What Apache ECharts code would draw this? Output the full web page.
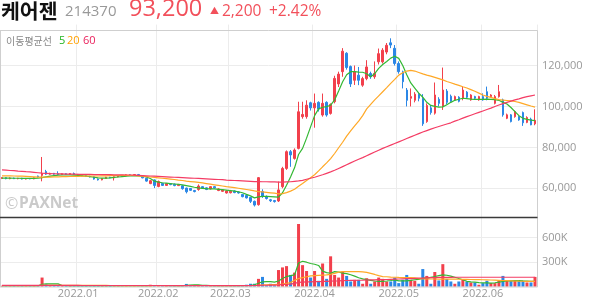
<!DOCTYPE html>
<html><head><meta charset="utf-8">
<script src="https://cdn.jsdelivr.net/npm/echarts@6/dist/echarts.min.js"></script>
<style>html,body{margin:0;padding:0;background:#fff}#c{width:594px;height:304px}</style>
</head><body><div id="c"></div>
<script>
const dates = [
'2021.12.06','2021.12.07','2021.12.08','2021.12.09','2021.12.10','2021.12.13','2021.12.14','2021.12.15','2021.12.16','2021.12.17',
'2021.12.20','2021.12.21','2021.12.22','2021.12.23','2021.12.24','2021.12.27','2021.12.28','2021.12.29','2021.12.30',
'2022.01.03','2022.01.04','2022.01.05','2022.01.06','2022.01.07','2022.01.10','2022.01.11','2022.01.12','2022.01.13','2022.01.14',
'2022.01.17','2022.01.18','2022.01.19','2022.01.20','2022.01.21','2022.01.24','2022.01.25','2022.01.26','2022.01.27','2022.01.28',
'2022.02.03','2022.02.04','2022.02.07','2022.02.08','2022.02.09','2022.02.10','2022.02.11','2022.02.14','2022.02.15','2022.02.16',
'2022.02.17','2022.02.18','2022.02.21','2022.02.22','2022.02.23','2022.02.24','2022.02.25','2022.02.28',
'2022.03.02','2022.03.03','2022.03.04','2022.03.07','2022.03.08','2022.03.10','2022.03.11','2022.03.14','2022.03.15','2022.03.16',
'2022.03.17','2022.03.18','2022.03.21','2022.03.22','2022.03.23','2022.03.24','2022.03.25','2022.03.28','2022.03.29','2022.03.30','2022.03.31',
'2022.04.01','2022.04.04','2022.04.05','2022.04.06','2022.04.07','2022.04.08','2022.04.11','2022.04.12','2022.04.13','2022.04.14',
'2022.04.15','2022.04.18','2022.04.19','2022.04.20','2022.04.21','2022.04.22','2022.04.25','2022.04.26','2022.04.27','2022.04.28','2022.04.29',
'2022.05.02','2022.05.03','2022.05.04','2022.05.06','2022.05.09','2022.05.10','2022.05.11','2022.05.12','2022.05.13','2022.05.16',
'2022.05.17','2022.05.18','2022.05.19','2022.05.20','2022.05.23','2022.05.24','2022.05.25','2022.05.26','2022.05.27','2022.05.30','2022.05.31',
'2022.06.02','2022.06.03','2022.06.07','2022.06.08','2022.06.09','2022.06.10','2022.06.13','2022.06.14','2022.06.15','2022.06.16',
'2022.06.17','2022.06.20','2022.06.21','2022.06.22'];

const openP = [
64800,65200,64700,65000,64700,64900,64500,64800,64600,66000,
66300,68200,66900,67300,67100,66700,67100,66800,67200,66800,
66400,66100,65900,65600,64500,64100,64800,65400,65100,65600,
66200,66000,66600,66300,66700,65800,64900,62300,64100,60900,
62400,61400,62300,62000,61300,61200,60100,59900,58900,59400,
60800,60200,59700,60800,58900,58500,57700,57800,58700,58200,
57000,56500,55500,53600,52000,58400,56000,54400,54000,53800,
60800,69700,77900,74600,79500,95000,95000,101800,99300,102000,
95800,102000,96600,102300,111000,117000,126000,119500,112800,115300,
110400,113600,116100,114500,121800,121800,126600,131100,128400,121000,
116900,108000,104000,103000,106000,104000,92600,99300,96700,103500,
100000,107500,105000,103200,104500,104000,107000,103200,104800,103200,
104800,107200,104800,101500,104800,103200,94200,95900,95000,95000,
97000,92200,93800,91500];

const closeP = [
65200,64700,65000,64700,64900,64500,64800,64600,65100,65600,
67300,66900,67300,66900,66700,67100,66800,67200,66800,66400,
66100,65800,65600,64500,64100,64800,65400,65100,65600,66200,
66000,66600,66300,66700,66200,65100,63500,63700,61400,63300,
61400,62300,61800,61300,61900,59800,58300,59000,58400,61100,
60100,59400,60800,60200,59700,59200,58700,58600,57900,57700,
55900,55300,53600,51800,65200,56000,55000,53900,53500,59200,
69700,77900,76300,78700,97400,96100,100600,99300,101500,98700,
101500,95800,101000,113700,115800,127000,119000,111000,117000,112800,
113600,119300,114500,116100,125800,127500,129900,130000,121000,117000,
112100,103000,104800,106000,104000,91500,100500,97000,105600,101500,
108000,102000,102500,104800,102500,108000,104500,105600,104000,104800,
103200,104000,105600,104800,107200,95900,95900,92600,97500,93400,
92000,94600,91000,93200];

const lowP = [
64500,64400,64400,64500,64400,64300,64300,64400,64400,65200,
63400,66500,66600,66600,66400,66500,66500,66600,66500,66100,
65900,65500,65300,64200,63800,63900,64600,64900,63800,65400,
65800,65800,66100,66100,66000,64900,63200,62000,60100,60500,
61100,61200,61500,61000,61100,59300,57500,58700,58000,58800,
59800,59100,59400,59900,58600,58200,57400,57500,57600,57400,
55600,55000,52800,51100,51500,55300,54500,53300,53000,53300,
60000,69000,70500,74000,79000,94000,94000,98000,89600,97500,
95000,95000,96000,101500,109500,114500,118000,109500,110500,110400,
109600,112800,113500,113500,120500,121000,125500,128500,120000,116000,
108800,100000,100000,102000,102500,90500,92000,96000,96000,100000,
98300,101000,102000,102800,102000,103000,104000,102800,103500,102800,
102800,103000,104300,101000,104300,95000,93800,92200,94500,93000,
90500,91800,90800,90800];

const highP = [
65500,65400,65300,65200,65100,65100,65000,65000,65300,66200,
75300,69000,67600,67500,68300,67300,67300,67400,67700,67000,
66600,66300,66100,65800,64800,65000,65600,65600,65800,66400,
66500,66800,66900,66900,67000,66000,65100,64000,64300,63800,
62600,62600,62500,62300,62100,61600,60300,60100,59200,61900,
61000,60400,61000,61000,60000,59500,59000,59200,59000,58400,
57200,56700,55800,54000,65500,59500,56500,54800,54300,63300,
70500,78500,78700,79500,102300,102300,103000,102300,106300,102500,
106300,102500,101500,115000,117000,128500,126500,120000,120000,119300,
114500,122600,117000,122000,128300,128500,131000,133300,130000,122000,
117500,109000,108800,107000,106500,106000,101500,100500,111700,104500,
119000,108500,105800,105300,105000,109700,107500,106000,105200,105200,
106400,109700,106000,105600,110500,103800,96500,96300,98000,95600,
97500,95200,94500,98600];

const ma5 = [
65000,64950,64950,64900,64900,64850,64800,64800,64800,64900,
65200,65600,65900,66200,66400,66500,66500,66500,66400,66300,
66100,65900,65700,65400,65100,65000,65000,65100,65300,65500,
65700,65900,66000,66100,66100,65900,65500,64800,63500,63000,
62700,62500,62300,62100,61900,61700,61300,60900,60500,60200,
60000,59800,59700,59700,59500,59300,59100,58900,58600,58300,
57800,57000,56300,55300,55800,56000,56000,55900,55800,55700,
57800,61500,65500,70000,76500,79500,84500,90000,95500,98800,
99600,99900,100600,103200,107500,112100,115500,117000,117000,116800,
116700,116000,114500,116000,118600,120500,122000,123600,124500,123500,
120000,115500,111500,109000,106500,104500,102000,100500,100000,99700,
99800,100800,102000,103000,103500,104000,103800,103600,103500,103500,
103500,103600,103500,103300,103000,102000,101200,99500,97500,95500,
94200,93700,93300,93100];

const ma20 = [
66100,66100,66050,66000,65950,65900,65800,65700,65600,65500,
65450,65450,65500,65550,65600,65650,65700,65750,65800,65850,
65900,65950,66000,66000,66000,66050,66100,66150,66200,66250,
66300,66300,66300,66250,66100,65900,65700,65500,65300,65100,
64900,64700,64500,64300,64000,63800,63500,63300,63100,62900,
62600,62300,62000,61700,61400,61100,60800,60600,60300,60000,
59700,59400,59100,58700,58400,58200,58000,57800,57600,57300,
57400,57900,58600,59500,61000,62300,63800,65200,66600,68500,
70500,72400,74500,77000,79800,82500,85500,88000,90500,92800,
95500,98800,101000,103200,105200,107200,109200,111300,113200,115300,
116500,117300,117600,117300,116600,115900,115300,114800,114200,113600,
113000,112200,111600,110900,110300,109600,109000,108200,107400,106500,
105600,104900,104400,103800,103300,103100,102900,102700,102400,102000,
101400,100800,100200,99700];

const ma60 = [
69000,68900,68700,68600,68400,68300,68100,68000,67800,67600,
67400,67300,67200,67100,67000,67000,66900,66900,66900,66800,
66800,66800,66800,66700,66700,66700,66700,66700,66600,66600,
66600,66500,66500,66400,66300,66200,66100,66000,65900,65800,
65700,65600,65500,65400,65300,65200,65100,65000,64900,64800,
64700,64600,64500,64400,64300,64200,64000,63900,63800,63700,
63600,63500,63400,63300,63300,63200,63200,63100,63100,63000,
63000,63100,63200,63400,63600,63900,64400,64900,65400,66000,
66600,67300,68000,68800,69700,70600,71500,72400,73300,74200,
75000,75900,76800,77700,78600,79500,80300,81100,81900,82700,
83500,84300,85100,85900,86700,87500,88200,88900,89600,90200,
90800,91400,92000,92800,93500,94300,95000,95700,96400,97100,
97800,98500,99200,100000,100700,101400,102000,102600,103200,103700,
104300,104800,105200,105600];

const volume = [
12000,9000,8000,11000,7000,9000,8000,10000,9000,14000,
112000,28000,15000,12000,18000,10000,9000,11000,8000,9000,
8000,10000,7000,9000,14000,11000,8000,9000,12000,10000,
8000,9000,7000,8000,9000,11000,14000,24000,16000,12000,
9000,10000,8000,9000,11000,14000,34000,22000,12000,16000,
10000,9000,11000,8000,9000,10000,12000,12000,10000,9000,
14000,24000,36000,36000,96000,120000,16000,36000,16000,204000,
236000,252000,144000,172000,768000,264000,192000,112000,192000,72000,
284000,96000,372000,144000,112000,184000,132000,64000,84000,84000,
36000,104000,36000,64000,112000,96000,64000,64000,112000,44000,
84000,144000,84000,72000,36000,216000,132000,36000,180000,76000,
276000,96000,64000,36000,64000,84000,64000,52000,52000,24000,
44000,72000,44000,44000,72000,132000,72000,72000,72000,72000,
72000,52000,52000,120000];

const volMa5 = [
10000,10000,10000,10000,10000,10000,9000,9000,9000,10000,
30000,34000,35000,36000,35000,14000,12000,11000,11000,10000,
10000,10000,9000,9000,10000,10000,10000,10000,10000,10000,
10000,9000,9000,9000,9000,9000,10000,14000,15000,15000,
15000,14000,12000,10000,10000,11000,16000,20000,22000,22000,
18000,16000,12000,11000,10000,10000,10000,11000,11000,11000,
12000,14000,18000,24000,42000,60000,62000,62000,57000,70000,
100000,124000,135000,144000,290000,312000,300000,284000,275000,260000,
190000,172000,165000,185000,180000,166000,160000,146000,130000,110000,
95000,86000,78000,70000,64000,66000,70000,76000,84000,72000,
72000,72000,78000,85000,90000,104000,105000,115000,125000,135000,
144000,140000,130000,116000,100000,85000,66000,60000,55000,50000,
48000,46000,44000,48000,55000,64000,70000,72000,74000,76000,
72000,70000,66000,64000];

const volMa20 = [
13000,13000,13000,13000,13000,13000,13000,13000,13000,13000,
17000,17000,17000,17000,17000,17000,17000,17000,17000,17000,
17000,17000,17000,17000,17000,17000,16000,15000,14000,12000,
11000,11000,11000,11000,11000,11000,11000,11000,12000,12000,
12000,12000,12000,12000,12000,12000,13000,14000,14000,14000,
14000,14000,14000,14000,14000,14000,13000,13000,12000,12000,
12000,13000,14000,14000,18000,24000,24000,25000,25000,30000,
32000,40000,50000,78000,100000,112000,122000,132000,136000,139000,
142000,144000,152000,163000,178000,184000,185000,185000,184000,184000,
182000,176000,164000,150000,135000,124000,122000,118000,116000,113000,
112000,112000,112000,108000,100000,96000,95000,94000,94000,93000,
93000,92000,92000,92000,91000,90000,89000,88000,87000,86000,
85000,84000,82000,80000,78000,76000,74000,72000,70000,68000,
67000,65000,64000,64000];

const volMa60 = [
16000,16000,16000,16000,16000,16000,16000,16000,16000,16000,
16000,16000,16000,16000,16000,16000,16000,16000,16000,16000,
15000,15000,15000,15000,15000,15000,15000,15000,15000,15000,
15000,15000,15000,15000,15000,15000,15000,15000,15000,15000,
14000,14000,14000,14000,14000,14000,14000,14000,14000,14000,
14000,14000,14000,14000,14000,14000,14000,14000,14000,14000,
14000,14000,14000,15000,16000,18000,18000,19000,19000,22000,
26000,30000,32000,40000,52000,56000,58000,60000,62000,63000,
64000,66000,68000,70000,72000,75000,76000,77000,78000,79000,
80000,82000,83000,84000,86000,87000,88000,90000,92000,94000,
96000,98000,100000,102000,104000,106000,108000,110000,112000,113000,
114000,115000,115000,116000,116000,116000,116000,116000,116000,116000,
116000,116000,116000,116000,116000,116000,116000,116000,116000,116000,
116000,116000,116000,116000];

const UP = '#f2404c', DOWN = '#2b87e6';
const C5 = '#33b833', C20 = '#ffa826', C60 = '#f43c64';
const FONT = '"Open Sans", "Noto Sans CJK KR", sans-serif';
const KFONT = '"Noto Sans CJK KR", "Open Sans", sans-serif';

const monthStart = (i) => i > 0 && dates[i].slice(0, 7) !== dates[i - 1].slice(0, 7);
const candles = dates.map((d, i) => [openP[i], closeP[i], lowP[i], highP[i]]);

const xBase = {
  type: 'category', data: dates, boundaryGap: true,
  axisLine: { show: false }, axisTick: { show: false },
  splitLine: { show: true, interval: monthStart, lineStyle: { color: '#ececec', width: 1 } }
};

const lineS = (name, data, color, xi, yi) => ({
  name, type: 'line', data, xAxisIndex: xi, yAxisIndex: yi,
  showSymbol: false, symbol: 'none', smooth: false, z: 4,
  lineStyle: { color, width: 1.2 }, itemStyle: { color }
});

const chart = echarts.init(document.getElementById('c'), null, { renderer: 'canvas' });
chart.setOption({
  animation: false,
  backgroundColor: '#fff',
  grid: [
    { left: 0, right: 57, top: 24.6, bottom: 74.8 },
    { left: 0, right: 57, top: 213.2, bottom: 17.3 }
  ],
  xAxis: [
    Object.assign({}, xBase, { gridIndex: 0, axisLabel: { show: false } }),
    Object.assign({}, xBase, { gridIndex: 1, axisLabel: {
      show: true, interval: monthStart, formatter: (v) => v.slice(0, 7),
      color: '#999', fontSize: 11, margin: 2, fontFamily: FONT } })
  ],
  yAxis: [
    { type: 'value', gridIndex: 0, position: 'right', min: 40000, max: 140000, interval: 20000,
      axisLine: { show: false }, axisTick: { show: false },
      axisLabel: { color: '#999', fontSize: 11, margin: 5, fontFamily: FONT,
        showMinLabel: false, showMaxLabel: false,
        formatter: (v) => v.toLocaleString('en-US') },
      splitLine: { show: true, showMinLine: false, showMaxLine: false, lineStyle: { color: '#ececec' } } },
    { type: 'value', gridIndex: 1, position: 'right', min: 0, max: 900000, interval: 300000,
      axisLine: { show: false }, axisTick: { show: false },
      axisLabel: { color: '#999', fontSize: 11, margin: 5, fontFamily: FONT,
        showMinLabel: false, showMaxLabel: false,
        formatter: (v) => (v / 1000) + 'K' },
      splitLine: { show: true, showMinLine: false, showMaxLine: false, lineStyle: { color: '#ececec' } } }
  ],
  series: [
    { type: 'candlestick', data: candles, xAxisIndex: 0, yAxisIndex: 0, barWidth: 2, z: 3,
      itemStyle: { color: UP, color0: DOWN, borderColor: UP, borderColor0: DOWN, borderWidth: 1 } },
    lineS('MA5', ma5, C5, 0, 0),
    lineS('MA20', ma20, C20, 0, 0),
    lineS('MA60', ma60, C60, 0, 0),
    { type: 'bar', data: volume, xAxisIndex: 1, yAxisIndex: 1, barWidth: 3, z: 3,
      itemStyle: { color: (p) => closeP[p.dataIndex] >= openP[p.dataIndex] ? UP : DOWN } },
    lineS('VMA5', volMa5, C5, 1, 1),
    lineS('VMA20', volMa20, C20, 1, 1),
    lineS('VMA60', volMa60, C60, 1, 1)
  ],
  graphic: [
    { type: 'text', x: 1, y: 11, z: 10, style: { text: '케어젠', font: 'bold 20.5px ' + KFONT, fill: '#111', verticalAlign: 'middle' } },
    { type: 'text', x: 65, y: 11.5, z: 10, style: { text: '214370', font: '15px ' + FONT, fill: '#999', verticalAlign: 'middle' } },
    { type: 'text', x: 129, y: 9.5, z: 10, style: { text: '93,200', font: '23.5px ' + FONT, fill: '#f2505b', verticalAlign: 'middle' } },
    { type: 'text', x: 210, y: 11.5, z: 10, style: { text: '▲', font: '9px ' + FONT, fill: '#f2505b', verticalAlign: 'middle' } },
    { type: 'text', x: 222, y: 12, z: 10, style: { text: '2,200', font: '15.5px ' + FONT, fill: '#f2505b', verticalAlign: 'middle' } },
    { type: 'text', x: 269, y: 12, z: 10, style: { text: '+2.42%', font: '15.5px ' + FONT, fill: '#f2505b', verticalAlign: 'middle' } },
    { type: 'text', x: 6, y: 41, z: 10, style: { text: '이동평균선', font: '10px ' + KFONT, fill: '#888', verticalAlign: 'middle' } },
    { type: 'text', x: 59, y: 41, z: 10, style: { text: '5', font: '11px ' + FONT, fill: '#22b422', verticalAlign: 'middle' } },
    { type: 'text', x: 67, y: 41, z: 10, style: { text: '20', font: '11px ' + FONT, fill: '#ffa000', verticalAlign: 'middle' } },
    { type: 'text', x: 83, y: 41, z: 10, style: { text: '60', font: '11px ' + FONT, fill: '#ea1f5b', verticalAlign: 'middle' } },
    { type: 'text', x: 5, y: 204, z: 1, style: { text: '©', font: '16px ' + FONT, fill: '#cacaca', verticalAlign: 'middle' } },
    { type: 'text', x: 19, y: 204, z: 1, style: { text: 'PAXNet', font: 'bold 15.5px ' + FONT, fill: '#cacaca', verticalAlign: 'middle' } },
    { type: 'line', z: 5, shape: { x1: 0, y1: 30.5, x2: 537.5, y2: 30.5 }, style: { stroke: '#cfcfcf', lineWidth: 1 } },
    { type: 'line', z: 5, shape: { x1: 0.5, y1: 30.5, x2: 0.5, y2: 287 }, style: { stroke: '#cfcfcf', lineWidth: 1 } },
    { type: 'line', z: 5, shape: { x1: 537.5, y1: 30.5, x2: 537.5, y2: 287 }, style: { stroke: '#cfcfcf', lineWidth: 1 } },
    { type: 'line', z: 5, shape: { x1: 0, y1: 217.5, x2: 537.5, y2: 217.5 }, style: { stroke: '#3a3a3a', lineWidth: 1.5 } },
    { type: 'line', z: 5, shape: { x1: 0, y1: 287, x2: 537.5, y2: 287 }, style: { stroke: '#cfcfcf', lineWidth: 1 } }
  ]
});
</script>
</body></html>
